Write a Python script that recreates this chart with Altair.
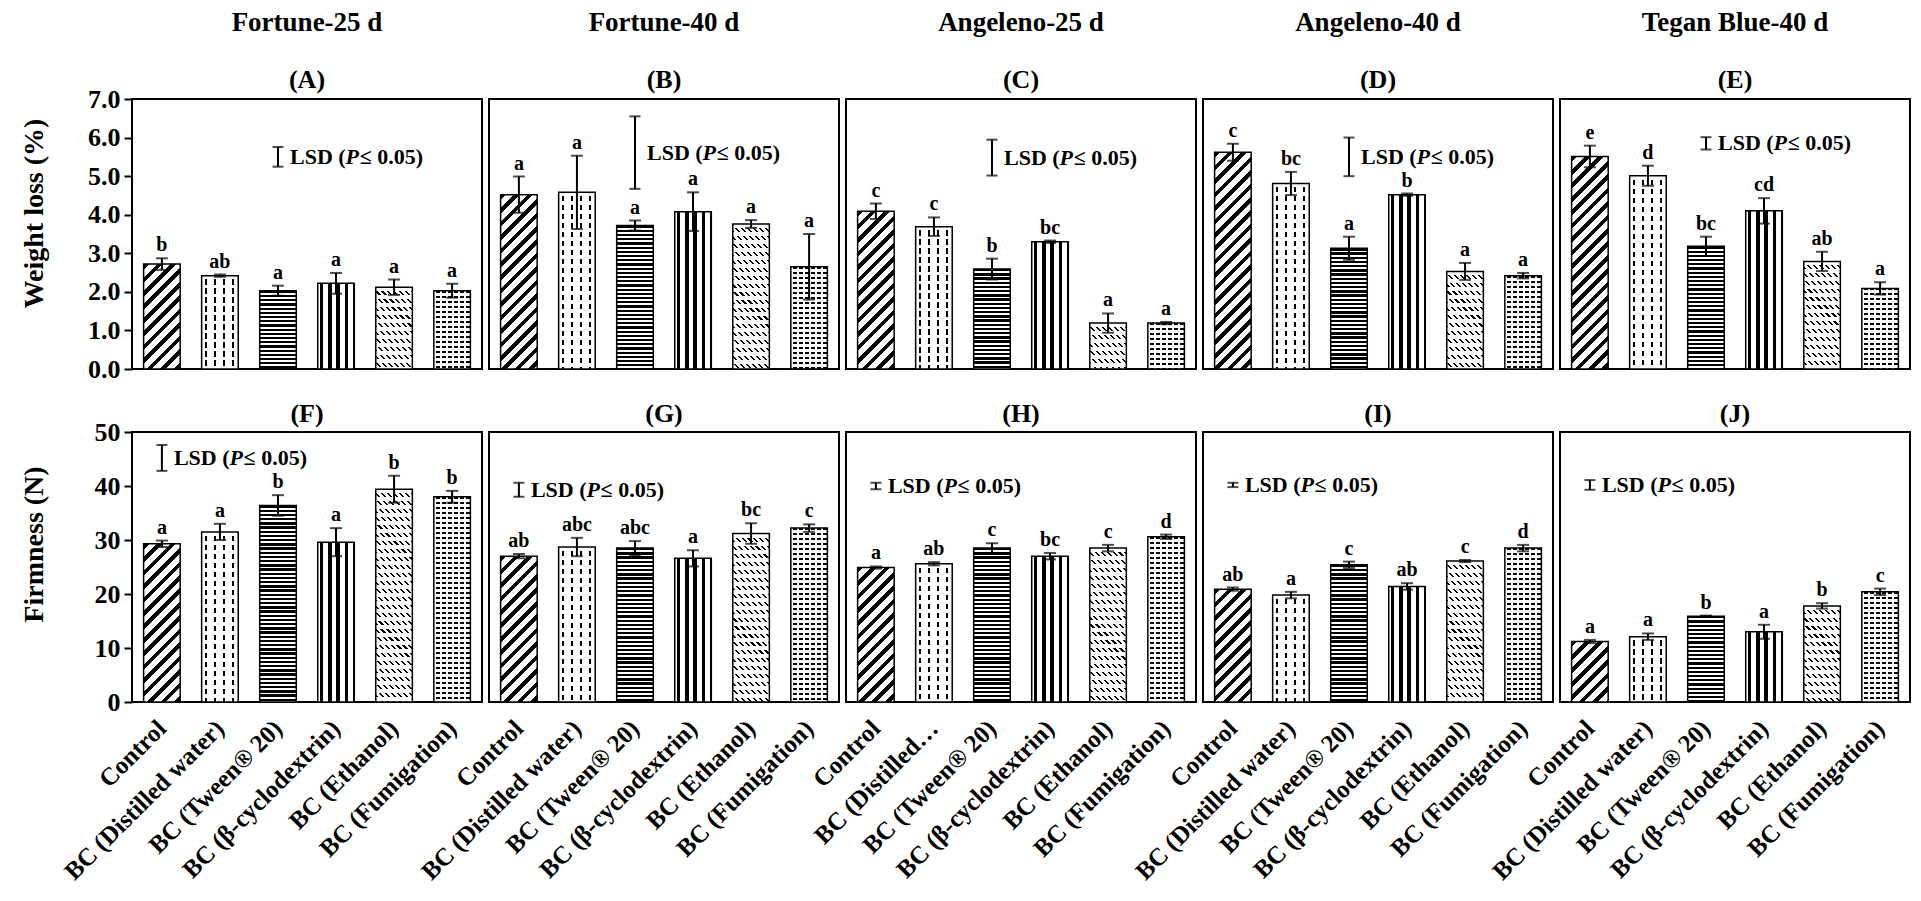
import math
import altair as alt
import pandas as pd

# ---------------- data ----------------
TREATMENTS = ["Control", "BC (Distilled water)", "BC (Tween® 20)",
              "BC (β-cyclodextrin)", "BC (Ethanol)", "BC (Fumigation)"]
CULTIVARS = ["Fortune-25 d", "Fortune-40 d", "Angeleno-25 d", "Angeleno-40 d", "Tegan Blue-40 d"]
TOP_TAGS = ["(A)", "(B)", "(C)", "(D)", "(E)"]
BOTTOM_TAGS = ["(F)", "(G)", "(H)", "(I)", "(J)"]

# Weight loss (%)
WL_A = [2.72, 2.42, 2.03, 2.22, 2.12, 2.03]
WL_A_ERR = [0.15, 0.03, 0.13, 0.27, 0.20, 0.18]
WL_A_LET = ["b", "ab", "a", "a", "a", "a"]
WL_B = [4.52, 4.58, 3.72, 4.08, 3.76, 2.65]
WL_B_ERR = [0.47, 0.95, 0.13, 0.50, 0.10, 0.85]
WL_B_LET = ["a", "a", "a", "a", "a", "a"]
WL_C = [4.09, 3.69, 2.59, 3.30, 1.19, 1.19]
WL_C_ERR = [0.20, 0.24, 0.27, 0.03, 0.25, 0.03]
WL_C_LET = ["c", "c", "b", "bc", "a", "a"]
WL_D = [5.62, 4.81, 3.13, 4.52, 2.53, 2.42]
WL_D_ERR = [0.22, 0.30, 0.30, 0.03, 0.22, 0.07]
WL_D_LET = ["c", "bc", "a", "b", "a", "a"]
WL_E = [5.51, 5.01, 3.18, 4.10, 2.79, 2.09]
WL_E_ERR = [0.28, 0.26, 0.25, 0.33, 0.25, 0.16]
WL_E_LET = ["e", "d", "bc", "cd", "ab", "a"]
WL_LSD_CENTER = [5.50, 5.61, 5.48, 5.50, 5.85]
WL_LSD_LEN = [0.51, 1.88, 0.93, 1.00, 0.32]

# Firmness (N)
FI_F = [29.3, 31.5, 36.4, 29.6, 39.4, 38.0]
FI_F_ERR = [0.6, 1.5, 1.9, 2.6, 2.5, 1.1]
FI_F_LET = ["a", "a", "b", "a", "b", "b"]
FI_G = [27.0, 28.7, 28.5, 26.6, 31.2, 32.2]
FI_G_ERR = [0.4, 1.7, 1.3, 1.5, 1.9, 0.7]
FI_G_LET = ["ab", "abc", "abc", "a", "bc", "c"]
FI_H = [24.9, 25.6, 28.5, 27.0, 28.5, 30.6]
FI_H_ERR = [0.2, 0.3, 0.9, 0.6, 0.6, 0.4]
FI_H_LET = ["a", "ab", "c", "bc", "c", "d"]
FI_I = [20.9, 19.8, 25.4, 21.4, 26.1, 28.5]
FI_I_ERR = [0.3, 0.6, 0.6, 0.6, 0.2, 0.6]
FI_I_LET = ["ab", "a", "c", "ab", "c", "d"]
FI_J = [11.2, 12.1, 15.9, 13.0, 17.8, 20.4]
FI_J_ERR = [0.3, 0.6, 0.1, 1.3, 0.5, 0.6]
FI_J_LET = ["a", "a", "b", "a", "b", "c"]
FI_LSD_CENTER = [45.2, 39.3, 40.0, 40.2, 40.2]
FI_LSD_LEN = [4.8, 2.6, 1.2, 0.8, 1.8]

# ---------------- style ----------------
FONT = "Liberation Serif"
PLOT_W, PLOT_H = 350, 270
P_IN, P_OUT = 0.37, 0.2
STEP = PLOT_W / (6 - P_IN + 2 * P_OUT)
BAR_W = STEP * (1 - P_IN)
BLACK, WHITE, CLEAR = "black", "white", "rgba(255,255,255,0)"

# hatch definitions per treatment: (direction, period px, duty, on colour, off colour, phase px)
PATTERNS = [
    [("d1", 9.5, 0.42, BLACK, WHITE, 0)],
    [("v", 9.0, 0.2, BLACK, WHITE, 3.5), ("h", 9.0, 0.42, WHITE, CLEAR, 0)],
    [("h", 4.2, 0.55, BLACK, WHITE, 0)],
    [("v", 8.3, 0.45, BLACK, WHITE, 2.0)],
    [("d2", 4.2, 0.35, BLACK, WHITE, 0), ("h", 8.0, 0.5, WHITE, CLEAR, 0)],
    [("h", 5.0, 0.4, BLACK, WHITE, 0), ("v", 6.0, 0.28, WHITE, CLEAR, 0)],
]


def seg_stops(period, duty, on, off, phase):
    stops = []
    t = phase - period * math.ceil(phase / period + 1e-9) if phase > 0 else phase
    while t < 1.0:
        for a, b, c in ((t, t + duty * period, on), (t + duty * period, t + period, off)):
            a2, b2 = max(a, 0.0), min(b, 1.0)
            if b2 > a2:
                stops.append({"offset": round(a2, 5), "color": c})
                stops.append({"offset": round(b2, 5), "color": c})
        t += period
    return stops


def gradient(spec, w, h):
    kind, P, duty, on, off, ph = spec
    if kind == "h":
        x1, y1, x2, y2, L = 0, 0, 0, 1, h
    elif kind == "v":
        x1, y1, x2, y2, L = 0, 0, 1, 0, w
    else:
        a = w * (w + h) / (w * w + h * h)
        b = h * (w + h) / (w * w + h * h)
        L = (w + h) / math.sqrt(2)
        if kind == "d1":
            x1, y1, x2, y2 = 0, 0, a, b
        else:
            x1, y1, x2, y2 = 0, 1, a, 1 - b
    return {"gradient": "linear", "x1": x1, "y1": y1, "x2": x2, "y2": y2,
            "stops": seg_stops(P / L, duty, on, off, ph / L)}


def make_panel(means, errs, letters, ymax, tick_step, fmt, ytitle, title_y,
               tag, coltitle, lsd_c, lsd_len, lsd_idx, show_x, label_expr=None):
    df = pd.DataFrame({"t": TREATMENTS, "idx": list(range(6)), "m": means,
                       "e": errs, "lab": letters})
    df["lo"] = df["m"] - df["e"]
    df["hi"] = df["m"] + df["e"]
    df["top"] = df[["hi", "m"]].max(axis=1)

    yscale = alt.Scale(domain=[0, ymax], nice=False, zero=True)
    if ytitle:
        yaxis = alt.Axis(title=ytitle, values=[k * tick_step for k in range(int(round(ymax / tick_step)) + 1)],
                         format=fmt, grid=False, domain=False, ticks=True, tickSize=8, tickWidth=2,
                         tickColor="black", labelFont=FONT, labelFontSize=26, labelFontWeight="bold",
                         labelColor="black", labelPadding=4, titleFont=FONT, titleFontSize=28,
                         titleFontWeight="bold", titleColor="black", titleAngle=270,
                         titleX=-98, titleY=title_y, titleAlign="center", titleBaseline="middle")
        title_offset = -8   # compensates the top tick label overhang
    else:
        yaxis = None
        title_offset = 5

    if show_x:
        kw = dict(title=None, labelAngle=-45, labelAlign="right", labelBaseline="middle",
                  labelFont=FONT, labelFontSize=25, labelFontWeight="bold", labelColor="black",
                  ticks=False, domain=False, labelPadding=22, labelLimit=400)
        if label_expr:
            kw["labelExpr"] = label_expr
        xaxis = alt.Axis(**kw)
    else:
        xaxis = None

    x = alt.X("t:N", sort=TREATMENTS, scale=alt.Scale(paddingInner=P_IN, paddingOuter=P_OUT),
              axis=xaxis, title=None)

    def Y(field):
        return alt.Y(field, type="quantitative", scale=yscale, axis=yaxis)

    base = alt.Chart(df)
    layers = []
    for i in range(6):
        h = means[i] / ymax * PLOT_H
        for spec in PATTERNS[i]:
            layers.append(base.mark_bar(fill=gradient(spec, BAR_W, h), strokeWidth=0)
                          .encode(x=x, y=Y("m")).transform_filter(alt.datum.idx == i))
    layers.append(base.mark_bar(fillOpacity=0, stroke="black", strokeWidth=1.5).encode(x=x, y=Y("m")))
    layers.append(base.mark_rule(color="black", strokeWidth=2).encode(x=x, y=Y("lo"), y2="hi:Q"))
    layers.append(base.mark_tick(color="black", thickness=2, size=12).encode(x=x, y=Y("hi")))
    layers.append(base.mark_tick(color="black", thickness=2, size=12).encode(x=x, y=Y("lo")))
    layers.append(base.mark_text(font=FONT, fontSize=20, fontWeight="bold", color="black",
                                 baseline="bottom", dy=-3).encode(x=x, y=Y("top"), text="lab:N"))

    lsd = pd.DataFrame({"t": [TREATMENTS[lsd_idx]], "c": [lsd_c],
                        "lo": [lsd_c - lsd_len / 2], "hi": [lsd_c + lsd_len / 2]})
    lb = alt.Chart(lsd)
    layers.append(lb.mark_rule(color="black", strokeWidth=2).encode(x=x, y=Y("lo"), y2="hi:Q"))
    layers.append(lb.mark_tick(color="black", thickness=2, size=11).encode(x=x, y=Y("hi")))
    layers.append(lb.mark_tick(color="black", thickness=2, size=11).encode(x=x, y=Y("lo")))
    fs = 22
    pieces = [("LSD (", "normal", 12), ("P", "italic", 12 + 2.528 * fs),
              ("≤ 0.05)", "normal", 12 + 2.528 * fs + 0.64 * fs)]
    for txt, style, dx in pieces:
        layers.append(lb.mark_text(text=txt, font=FONT, fontSize=fs, fontWeight="bold",
                                   fontStyle=style, color="black", align="left",
                                   baseline="middle", dx=dx).encode(x=x, y=Y("c")))

    if coltitle:
        title = alt.TitleParams(text=coltitle, subtitle=tag, font=FONT, fontSize=27, fontWeight="bold",
                                color="black", subtitleFont=FONT, subtitleFontSize=26,
                                subtitleFontWeight="bold", subtitleColor="black",
                                subtitlePadding=30, offset=title_offset, anchor="middle", frame="group")
    else:
        title = alt.TitleParams(text=tag, font=FONT, fontSize=26, fontWeight="bold",
                                color="black", offset=title_offset, anchor="middle", frame="group")
    return alt.layer(*layers).properties(width=PLOT_W, height=PLOT_H, title=title)


WL = [(WL_A, WL_A_ERR, WL_A_LET), (WL_B, WL_B_ERR, WL_B_LET), (WL_C, WL_C_ERR, WL_C_LET),
      (WL_D, WL_D_ERR, WL_D_LET), (WL_E, WL_E_ERR, WL_E_LET)]
FI = [(FI_F, FI_F_ERR, FI_F_LET), (FI_G, FI_G_ERR, FI_G_LET), (FI_H, FI_H_ERR, FI_H_LET),
      (FI_I, FI_I_ERR, FI_I_LET), (FI_J, FI_J_ERR, FI_J_LET)]

tops = []
for k in range(5):
    m, e, l = WL[k]
    tops.append(make_panel(m, e, l, 7.0, 1.0, ".1f", "Weight loss (%)" if k == 0 else None, 114,
                           TOP_TAGS[k], CULTIVARS[k], WL_LSD_CENTER[k], WL_LSD_LEN[k], 2, False))

bots = []
for k in range(5):
    m, e, l = FI[k]
    expr = None
    if k == 2:
        expr = "datum.label == 'BC (Distilled water)' ? 'BC (Distilled…' : datum.label"
    bots.append(make_panel(m, e, l, 50.0, 10.0, "d", "Firmness (N)" if k == 0 else None, 112,
                           BOTTOM_TAGS[k], None, FI_LSD_CENTER[k], FI_LSD_LEN[k], 0, True, expr))

row1 = alt.hconcat(*tops, spacing=7, bounds="flush")
row2 = alt.hconcat(*bots, spacing=7, bounds="flush")
chart = (alt.vconcat(row1, row2, spacing=17)
         .properties(padding={"left": 11, "top": 0, "right": 2, "bottom": 0}, background="white")
         .configure_view(stroke="black", strokeWidth=2))

chart.save("out.html", embed_options={"renderer": "svg", "actions": False})
